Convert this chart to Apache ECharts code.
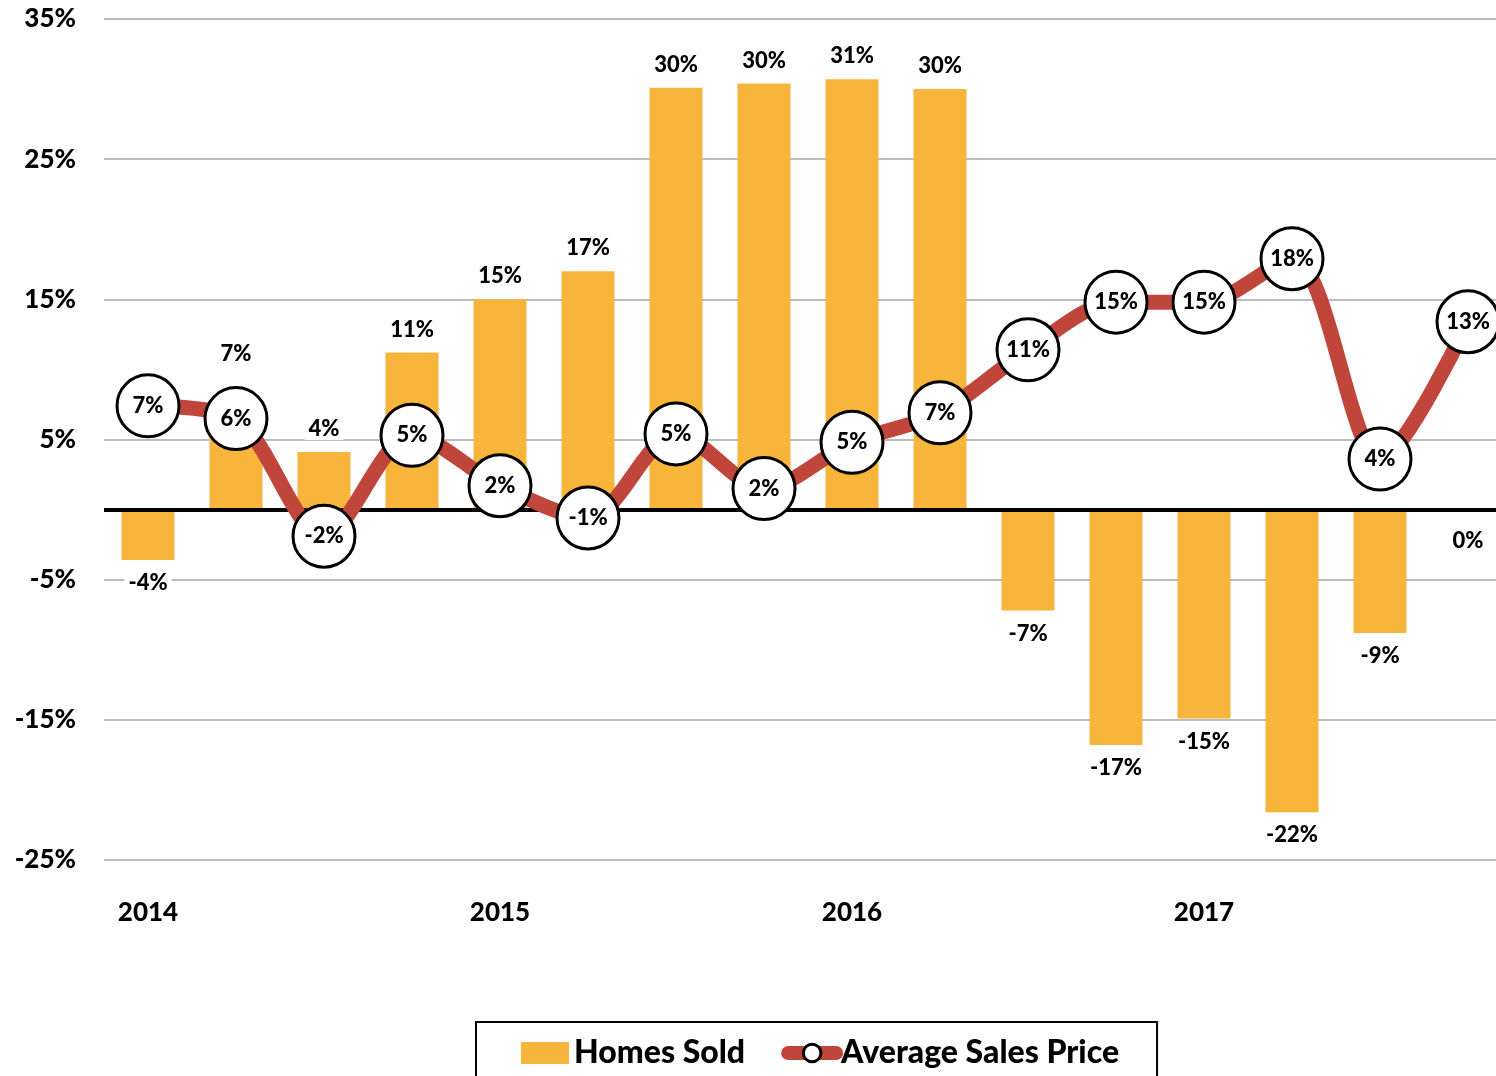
<!DOCTYPE html>
<html>
<head>
<meta charset="utf-8">
<script src="https://cdn.jsdelivr.net/npm/echarts@6/dist/echarts.min.js"></script>
<style>
  html, body { margin: 0; padding: 0; background: #fff; }
  #chart { width: 1496px; height: 1076px; }
</style>
</head>
<body>
<div id="chart"></div>
<script>
// quarters 2014 Q1 .. 2017 Q4
var quarters = ['2014 Q1', '2014 Q2', '2014 Q3', '2014 Q4',
                '2015 Q1', '2015 Q2', '2015 Q3', '2015 Q4',
                '2016 Q1', '2016 Q2', '2016 Q3', '2016 Q4',
                '2017 Q1', '2017 Q2', '2017 Q3', '2017 Q4'];
// year-over-year change, %
var homesSold = [-3.6, 7.4, 4.1, 11.2, 15.0, 17.0, 30.1, 30.4, 30.7, 30.0, -7.2, -16.8, -14.9, -21.6, -8.8, 0];
var avgSalesPrice = [7.4, 6.49, -1.9, 5.3, 1.7, -0.6, 5.4, 1.5, 4.8, 6.9, 11.4, 14.8, 14.8, 17.9, 3.6, 13.4];
var yTickLabels = [-25, -15, -5, 5, 15, 25, 35];

var FONT = 'Lato';
var WEIGHT = 900;
var chart = echarts.init(document.getElementById('chart'));

// bar label distance: lift it clear of a price marker sitting on the bar top
function barLabel(v, i) {
  var dist = 12;
  if (v === 0) dist = 20;
  else if (v > 0 && Math.abs(v - avgSalesPrice[i]) < 2) dist = 41;
  return { position: v > 0 ? 'top' : 'bottom', distance: dist };
}

chart.setOption({
  animation: false,
  grid: { left: 104, top: 19, width: 1408, height: 841, outerBoundsMode: 'none' },
  legend: {
    left: 476,
    top: 1022,
    padding: [15, 38, 30, 45],
    borderColor: '#000',
    borderWidth: 2,
    itemGap: 36,
    itemWidth: 48,
    itemHeight: 22,
    textStyle: { fontFamily: FONT, fontWeight: WEIGHT, fontSize: 32, color: '#000' },
    data: [
      { name: 'Homes Sold', icon: 'rect', itemStyle: { color: '#F8B53B' } },
      {
        name: 'Average Sales Price',
        lineStyle: { color: '#C0463B', width: 14, cap: 'round' },
        itemStyle: { color: '#fff', borderColor: '#000', borderWidth: 3 }
      }
    ]
  },
  xAxis: {
    type: 'category',
    data: quarters,
    axisLine: { show: false },
    axisTick: { show: false },
    splitLine: { show: false },
    axisLabel: {
      interval: 0,
      margin: 40,
      fontFamily: FONT,
      fontWeight: WEIGHT,
      fontSize: 26,
      color: '#000',
      formatter: function (v) {
        return v.indexOf('Q1') > 0 ? v.slice(0, 4) : '';
      }
    }
  },
  yAxis: {
    type: 'value',
    min: -25,
    max: 35,
    interval: 5,
    axisLine: { show: false },
    axisTick: { show: false },
    splitLine: {
      show: true,
      // only every other tick gets a grid line
      lineStyle: { color: ['#a6a6a6', 'rgba(0,0,0,0)'], width: 1.5 }
    },
    axisLabel: {
      margin: 28,
      fontFamily: FONT,
      fontWeight: WEIGHT,
      fontSize: 26,
      color: '#000',
      formatter: function (v) {
        return yTickLabels.indexOf(v) >= 0 ? v + '%' : '';
      }
    }
  },
  series: [
    {
      name: 'Homes Sold',
      type: 'bar',
      barWidth: 53,
      itemStyle: { color: '#F8B53B' },
      data: homesSold.map(function (v, i) {
        return { value: v, label: barLabel(v, i) };
      }),
      label: {
        show: true,
        fontFamily: FONT,
        fontWeight: WEIGHT,
        fontSize: 22,
        color: '#000',
        backgroundColor: '#fff',
        padding: [0, 4],
        formatter: function (p) { return Math.round(p.value) + '%'; }
      },
      markLine: {
        silent: true,
        symbol: 'none',
        label: { show: false },
        lineStyle: { color: '#000', width: 4, type: 'solid' },
        data: [{ yAxis: 0 }]
      }
    },
    {
      name: 'Average Sales Price',
      type: 'line',
      z: 5,
      smooth: 0.3,
      symbol: 'circle',
      symbolSize: 62,
      lineStyle: { color: '#C0463B', width: 15 },
      itemStyle: { color: '#fff', borderColor: '#000', borderWidth: 3 },
      label: {
        show: true,
        position: 'inside',
        fontFamily: FONT,
        fontWeight: WEIGHT,
        fontSize: 22,
        color: '#000',
        formatter: function (p) { return Math.round(p.value) + '%'; }
      },
      data: avgSalesPrice
    }
  ]
});
</script>
</body>
</html>
